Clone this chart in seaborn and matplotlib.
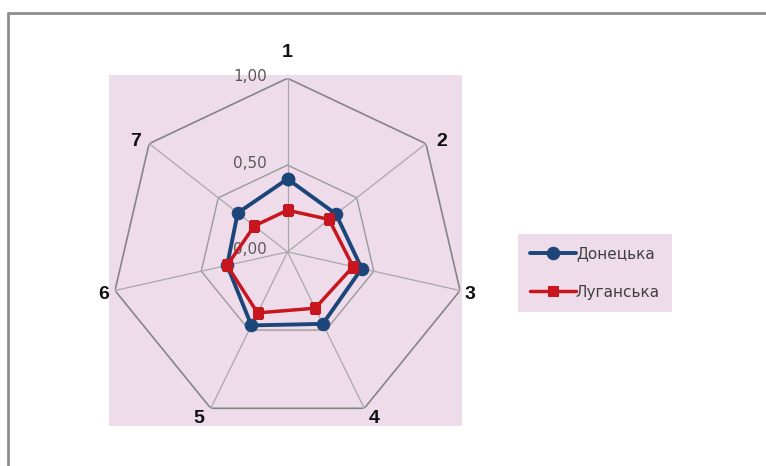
import numpy as np
import pandas as pd
import matplotlib
matplotlib.use("Agg")
import matplotlib.pyplot as plt
import seaborn as sns
from matplotlib.patches import Rectangle
from matplotlib.lines import Line2D

# дані
categories = ["1", "2", "3", "4", "5", "6", "7"]
donetsk = [0.42, 0.35, 0.43, 0.46, 0.47, 0.35, 0.36]
luhansk = [0.24, 0.30, 0.38, 0.36, 0.39, 0.35, 0.24]
series_names = ["Донецька", "Луганська"]
rings = [0.0, 0.5, 1.0]
ring_labels = ["0,00", "0,50", "1,00"]

# стиль
PINK = "#efdcea"
BLUE = "#1c4679"
RED = "#c8161e"
# зміщення підписів категорій (пікселі, вправо/вгору)
label_offsets = [(0, 26), (16, 2), (10, -4), (10, -10), (-12, -10), (-11, -4), (-14, 2)]

sns.set_style("white")
plt.rcParams["font.family"] = ["DejaVu Sans"]

fig = plt.figure(figsize=(7.66, 4.66), dpi=100)

# рожевий фон під діаграмою
fig.add_artist(Rectangle((0.1423, 0.0858), 0.4608, 0.7532, transform=fig.transFigure,
                         facecolor=PINK, edgecolor="none", zorder=0))
# рамка зверху та зліва
fig.add_artist(Line2D([0.0105, 1.0], [0.972, 0.972], transform=fig.transFigure,
                      color="#8e8e8e", lw=2))
fig.add_artist(Line2D([0.0105, 0.0105], [0.0, 0.972], transform=fig.transFigure,
                      color="#8e8e8e", lw=2))

ax = fig.add_axes([0.1443, 0.0869, 0.4621, 0.7451], projection="polar")
ax.set_theta_zero_location("N")
ax.set_theta_direction(-1)
ax.set_aspect("auto")
ax.patch.set_alpha(0)
ax.grid(False)
ax.spines["polar"].set_visible(False)
ax.set_xticks([])
ax.set_yticks([])

n = len(categories)
theta = np.linspace(0, 2 * np.pi, n, endpoint=False)
theta_closed = np.append(theta, 2 * np.pi)

# сітка: многокутники та промені
ax.plot(theta_closed, [0.5] * (n + 1), color="#9a9a9a", lw=1, zorder=1)
ax.plot(theta_closed, [1.0] * (n + 1), color="#858585", lw=1.2, zorder=1)
for t in theta:
    ax.plot([t, t], [0, 1], color="#a8a8a8", lw=0.9, zorder=1)

# підписи шкали
for r, lab in zip(rings, ring_labels):
    ax.annotate(lab, xy=(0, r), xytext=(-15, 1.5), textcoords="offset points",
                ha="right", va="center", fontsize=11, color="#5a5a5a", zorder=2)

# підписи категорій
for t, lab, (dx, dy) in zip(theta, categories, label_offsets):
    ax.annotate(lab, xy=(t, 1.0), xytext=(dx * 0.72, dy * 0.72), textcoords="offset points",
                ha="center", va="center", fontsize=14, fontweight="bold",
                color="#111111", family=["Liberation Sans", "DejaVu Sans"], annotation_clip=False)

df = pd.DataFrame({
    "theta": np.concatenate([theta_closed, theta_closed]),
    "value": donetsk + donetsk[:1] + luhansk + luhansk[:1],
    "region": [series_names[0]] * (n + 1) + [series_names[1]] * (n + 1),
})

sns.lineplot(data=df[df.region == series_names[0]], x="theta", y="value", sort=False,
             estimator=None, color=BLUE, lw=2.8, marker="o", markersize=9,
             markeredgecolor=BLUE, label=series_names[0], ax=ax, zorder=4)
sns.lineplot(data=df[df.region == series_names[1]], x="theta", y="value", sort=False,
             estimator=None, color=RED, lw=2.5, marker="s", markersize=7,
             markeredgecolor=RED, label=series_names[1], ax=ax, zorder=5)

ax.set_ylim(0, 1)
ax.set_xlabel("")
ax.set_ylabel("")

leg = ax.legend(loc="upper left", bbox_to_anchor=(0.676, 0.498), bbox_transform=fig.transFigure,
                frameon=True, facecolor=PINK, edgecolor="none", framealpha=1, fancybox=False,
                fontsize=11, handlelength=3.0, handletextpad=0.0, labelspacing=1.55,
                borderpad=0.8, borderaxespad=0)
for txt in leg.get_texts():
    txt.set_color("#404040")

fig.savefig("out.png", dpi=100)
